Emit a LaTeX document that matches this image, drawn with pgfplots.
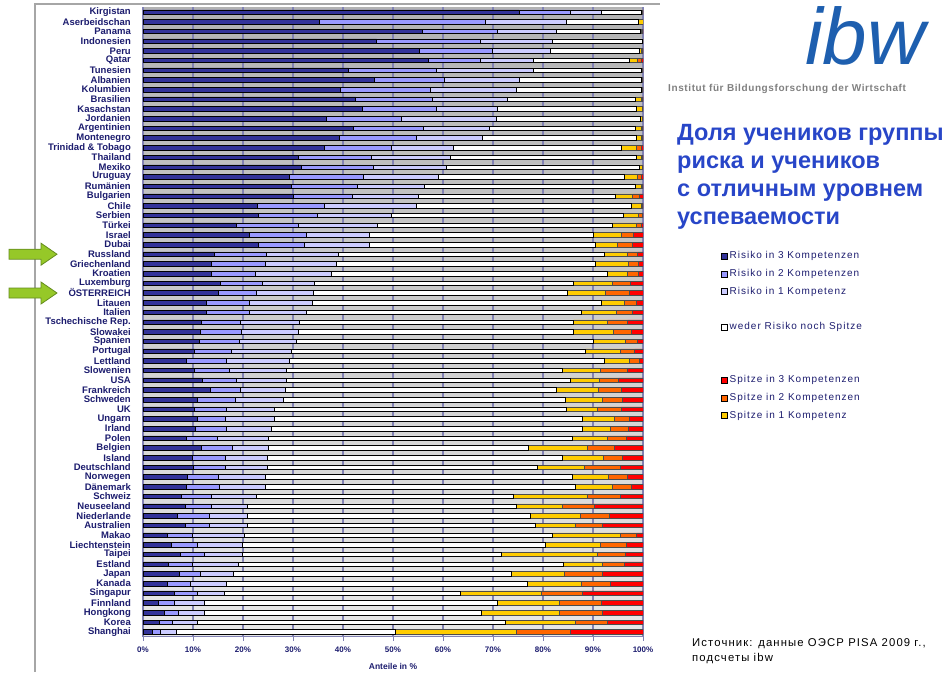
\documentclass[border=0pt]{standalone}
\usepackage{pgfplots}
\pgfplotsset{compat=1.18}
\usepackage{pgfplotstable}
\usepackage{fontspec}
\setmainfont{Liberation Sans}
\newfontfamily\legfont[LetterSpace=10]{Liberation Sans}
\newfontfamily\instfont[LetterSpace=6]{Liberation Sans}

\definecolor{rthree}{RGB}{51,51,153}
\definecolor{rtwo}{RGB}{153,153,255}
\definecolor{rone}{RGB}{204,204,255}
\definecolor{sone}{RGB}{255,204,0}
\definecolor{stwo}{RGB}{255,102,0}
\definecolor{sthree}{RGB}{255,0,0}
\definecolor{labnavy}{RGB}{28,28,110}
\definecolor{gridc}{RGB}{130,130,180}
\definecolor{titleblue}{RGB}{40,70,200}
\definecolor{logoblue}{RGB}{30,95,175}
\definecolor{arrowfill}{RGB}{150,200,40}
\definecolor{arrowdraw}{RGB}{100,140,30}

\pgfplotsset{legsq/.style={legend image code/.code={\draw[##1] (0pt,-3pt) rectangle (6pt,3pt);}}}

% R3/R2/R1 = Risiko in 3/2/1 Kompetenzen, N = weder noch, S1/S2/S3 = Spitze
\pgfplotstableread{
id R3 R2 R1 N S1 S2 S3
1 75.2 10.2 6.3 8.0 0.2 0.1 0.0
2 35.2 33.3 16.2 14.4 0.9 0.0 0.0
3 55.9 15.0 11.8 16.7 0.3 0.2 0.1
4 46.7 20.8 14.4 18.0 0.1 0.0 0.0
5 55.3 14.6 11.6 17.7 0.5 0.2 0.1
6 57.1 10.4 10.6 19.2 1.5 0.8 0.4
7 41.1 17.6 19.4 21.6 0.2 0.1 0.0
8 46.3 14.0 14.9 24.4 0.3 0.1 0.0
9 39.4 18.1 17.2 24.9 0.3 0.1 0.0
10 42.5 15.4 15.0 25.6 1.1 0.3 0.1
11 43.9 14.8 12.2 27.8 1.2 0.1 0.0
12 36.7 15.0 19.0 28.7 0.4 0.2 0.0
13 42.1 14.0 13.2 29.2 1.1 0.3 0.1
14 39.3 15.3 13.3 30.8 1.0 0.2 0.1
15 36.3 13.3 12.5 33.6 3.0 0.9 0.4
16 31.1 14.6 15.8 37.1 1.1 0.2 0.1
17 31.7 14.4 14.5 38.7 0.6 0.1 0.0
18 29.2 14.9 15.0 37.2 2.5 0.9 0.3
19 29.7 13.2 13.4 42.2 1.2 0.2 0.1
20 30.1 11.8 13.2 39.3 3.5 1.4 0.7
21 22.9 13.4 18.4 43.0 1.9 0.3 0.1
22 23.1 11.8 14.8 46.4 2.9 0.8 0.2
23 18.7 12.4 15.8 47.0 4.8 0.9 0.4
24 21.3 11.3 12.6 44.9 5.6 2.4 1.9
25 23.1 9.2 12.9 45.2 4.5 3.0 2.1
26 14.3 10.4 14.4 53.2 4.6 2.0 1.1
27 13.7 10.7 14.3 51.7 6.7 2.0 0.9
28 13.6 8.9 15.2 55.2 4.0 2.2 0.9
29 15.5 8.4 10.4 51.8 7.8 3.6 2.5
30 15.1 7.6 11.4 50.7 7.7 4.8 2.7
31 12.7 8.6 12.6 57.7 4.6 2.4 1.4
32 12.7 8.6 11.3 55.1 6.9 3.3 2.1
33 11.7 7.8 11.8 54.8 6.8 4.0 3.1
34 11.5 8.2 11.4 55.0 8.0 3.6 2.3
35 11.3 8.0 11.4 59.4 6.4 2.4 1.1
36 10.3 7.4 12.0 58.8 7.0 2.8 1.7
37 8.7 8.0 12.5 63.1 5.0 1.9 0.8
38 10.3 7.0 11.4 55.2 7.6 5.4 3.1
39 11.9 6.7 10.0 56.8 5.9 3.8 4.9
40 13.5 6.0 9.0 54.2 8.4 4.6 4.3
41 10.9 7.5 9.7 56.4 7.4 4.0 4.1
42 10.3 6.4 9.6 58.3 6.3 4.7 4.4
43 10.9 5.5 9.9 61.6 6.4 3.0 2.7
44 10.5 6.2 9.0 62.2 5.5 3.7 2.9
45 8.6 6.3 10.2 60.8 7.0 3.7 3.4
46 11.7 6.1 7.3 52.0 11.8 5.3 5.8
47 9.9 6.5 8.5 59.0 8.2 3.8 4.1
48 10.1 6.3 8.5 54.0 9.4 7.2 4.5
49 8.9 6.2 9.4 61.4 7.2 3.8 3.1
50 8.7 6.5 9.2 62.1 7.4 3.8 2.3
51 7.7 6.0 9.0 51.4 14.8 6.6 4.5
52 8.5 5.1 7.3 53.7 9.3 6.3 9.8
53 6.9 6.4 7.6 56.6 10.0 5.8 6.7
54 8.5 4.8 7.6 57.6 8.0 5.4 8.1
55 4.9 5.0 10.4 61.6 13.6 3.2 1.3
56 5.6 5.3 9.0 60.5 11.1 5.2 3.3
57 7.4 4.9 7.6 51.8 19.2 5.5 3.6
58 5.1 4.8 9.2 65.0 7.8 4.4 3.7
59 7.3 4.1 6.7 55.6 10.6 7.6 8.1
60 4.9 4.5 7.3 60.2 10.8 5.8 6.5
61 6.3 4.6 5.4 47.2 16.2 8.2 12.1
62 3.1 3.2 6.0 58.6 12.4 8.4 8.3
63 4.2 2.9 5.2 55.4 15.6 8.6 8.1
64 3.2 2.7 5.0 61.6 14.0 6.4 7.1
65 1.8 1.7 3.2 43.8 24.1 10.9 14.5
}\pisa

\begin{document}
\begin{tikzpicture}[x=1pt,y=1pt]
\path (0,0) rectangle (951,-675);
% frame
\draw[gray!70, line width=1.5pt] (35,-672) -- (35,-4) -- (660,-4);

\begin{axis}[
  at={(143pt,-636.8pt)}, anchor=south west,
  scale only axis, width=500pt, height=629.6pt,
  xbar stacked, bar width=4.5pt,
  xmin=0, xmax=100, ymin=0.5, ymax=65.5, y dir=reverse,
  axis background/.style={top color=black!30, bottom color=black!9},
  axis lines*=left,
  axis line style={gridc, line width=1.2pt},
  xmajorgrids, grid style={gridc, line width=1.2pt},
  xtick={0,10,...,100},
  xticklabel={\pgfmathprintnumber{\tick}\%},
  /pgf/number format/assume math mode=true,
  tick align=outside, major tick length=4pt,
  xtick style={gridc, line width=1pt},
  ytick style={draw=none},
  xticklabel style={font=\bfseries\fontsize{8}{9}\selectfont, text=labnavy, yshift=-3pt},
  xlabel={Anteile in \%},
  xlabel style={font=\bfseries\fontsize{8.5}{9}\selectfont, text=labnavy, yshift=-3pt},
  ytick={1,...,65},
  yticklabels={Kirgistan,Aserbeidschan,Panama,Indonesien,Peru,Qatar,Tunesien,Albanien,Kolumbien,Brasilien,Kasachstan,Jordanien,Argentinien,Montenegro,{Trinidad \& Tobago},Thailand,Mexiko,Uruguay,Rumänien,Bulgarien,Chile,Serbien,Türkei,Israel,Dubai,Russland,Griechenland,Kroatien,Luxemburg,ÖSTERREICH,Litauen,Italien,{Tschechische Rep.},Slowakei,Spanien,Portugal,Lettland,Slowenien,USA,Frankreich,Schweden,UK,Ungarn,Irland,Polen,Belgien,Island,Deutschland,Norwegen,Dänemark,Schweiz,Neuseeland,Niederlande,Australien,Makao,Liechtenstein,Taipei,Estland,Japan,Kanada,Singapur,Finnland,Hongkong,Korea,Shanghai},
  yticklabel style={font=\bfseries\fontsize{9.5}{10}\selectfont, text=labnavy, inner sep=0pt, xshift=-8pt},
  legend style={at={(1.15,0.619)}, anchor=north west, draw=none, fill=none,
    font=\legfont\fontsize{10}{11}\selectfont, text=labnavy,
    nodes={text height=7.5pt, text depth=2.5pt},
    row sep=3.7pt, cells={anchor=west},
    /tikz/every even column/.append style={column sep=2pt}},
]
\addplot[forget plot, fill=rthree, draw=black, line width=0.5pt] table[x=R3, y=id]{\pisa};
\addplot[forget plot, fill=rtwo, draw=black, line width=0.5pt] table[x=R2, y=id]{\pisa};
\addplot[forget plot, fill=rone, draw=black, line width=0.5pt] table[x=R1, y=id]{\pisa};
\addplot[forget plot, fill=white, draw=black, line width=0.5pt] table[x=N, y=id]{\pisa};
\addplot[forget plot, fill=sone, draw=black!70, line width=0.5pt] table[x=S1, y=id]{\pisa};
\addplot[forget plot, fill=stwo, draw=black!70, line width=0.5pt] table[x=S2, y=id]{\pisa};
\addplot[forget plot, fill=sthree, draw=black!70, line width=0.5pt] table[x=S3, y=id]{\pisa};

\addlegendimage{legsq, fill=rthree, draw=black}
\addlegendentry{Risiko in 3 Kompetenzen}
\addlegendimage{legsq, fill=rtwo, draw=black}
\addlegendentry{Risiko in 2 Kompetenzen}
\addlegendimage{legsq, fill=rone, draw=black}
\addlegendentry{Risiko in 1 Kompetenz}
\addlegendimage{empty legend}
\addlegendentry{}
\addlegendimage{legsq, fill=white, draw=black}
\addlegendentry{weder Risiko noch Spitze}
\addlegendimage{empty legend}
\addlegendentry{}
\addlegendimage{empty legend}
\addlegendentry{}
\addlegendimage{legsq, fill=sthree, draw=black}
\addlegendentry{Spitze in 3 Kompetenzen}
\addlegendimage{legsq, fill=stwo, draw=black}
\addlegendentry{Spitze in 2 Kompetenzen}
\addlegendimage{legsq, fill=sone, draw=black}
\addlegendentry{Spitze in 1 Kompetenz}
\end{axis}

% arrows marking Russland and Österreich
\foreach \yy in {254.2,293.0} {
  \draw[arrowdraw, fill=arrowfill, line width=0.8pt]
    (9,-\yy+5) -- (41,-\yy+5) -- (41,-\yy+11) -- (57,-\yy) -- (41,-\yy-11)
    -- (41,-\yy-5) -- (9,-\yy-5) -- cycle;
}

\node[anchor=base west, inner sep=0, text=logoblue, font=\itshape\fontsize{80}{80}\selectfont] at (805,-64) {ibw};
\node[anchor=base west, inner sep=0, text=gray, font=\instfont\bfseries\fontsize{10}{11}\selectfont] at (668,-91) {Institut für Bildungsforschung der Wirtschaft};
\node[anchor=north west, align=left, inner sep=0, text=titleblue, font=\bfseries\fontsize{23.5}{28.2}\selectfont] at (677,-124)
  {Доля учеников группы\\риска и учеников\\с отличным уровнем\\успеваемости};
\node[anchor=north west, align=left, inner sep=0, font=\legfont\fontsize{11.3}{15}\selectfont] at (692,-638)
  {Источник: данные ОЭСР PISA 2009 г.,\\подсчеты ibw};
\end{tikzpicture}
\end{document}
